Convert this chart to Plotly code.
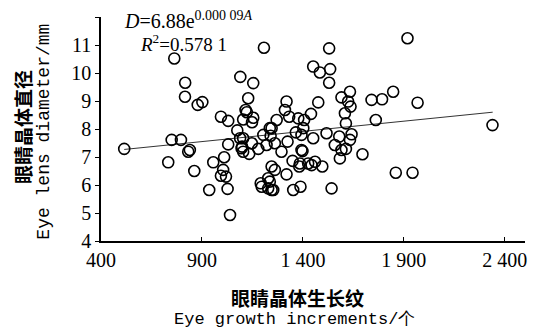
import plotly.graph_objects as go

# Eye growth increments (count) and eye lens diameter (mm)
increments = [
    515, 733, 750, 796, 763, 817, 816, 832, 840, 862, 879, 902, 936, 956,
    994, 1030, 1010, 1005, 994, 1019, 1027, 1039, 1030, 1075, 1090, 1154,
    1129, 1116, 1122, 1104, 1154, 1148, 1104, 1099, 1104, 1134, 1147, 1207,
    1245, 1365, 1393, 1402, 1451, 1517, 1580, 1641, 1633, 1558, 1591, 1613,
    1583, 1695, 1089, 1096, 1179, 1204, 1240, 1220, 1261, 1294, 1324, 1393,
    1398, 1349, 1382, 1426, 1443, 1460, 1496, 1319, 1245, 1261, 1228, 1191,
    1196, 1236, 1245, 1228, 1352, 1388, 1542, 1530, 1451, 1484, 1535, 1530,
    1319, 1476, 1311, 1270, 1332, 1377, 1406, 1440, 1591, 1633, 1624, 1636,
    1608, 1613, 1740, 1792, 1761, 1918, 1847, 1968, 2339, 1860, 1943, 1385,
    1253, 1236,
]
diameter = [
    7.29, 6.81, 7.61, 7.61, 10.52, 9.65, 9.15, 7.19, 7.25, 6.50, 8.86, 8.96, 5.82, 6.81,
    8.44, 8.29, 6.99, 6.54, 6.33, 6.30, 5.86, 4.93, 7.45, 7.95, 9.86, 9.64,
    9.10, 8.68, 8.60, 8.34, 8.40, 8.24, 7.67, 7.37, 7.19, 7.11, 7.49, 10.90,
    8.03, 7.88, 7.79, 8.03, 7.67, 7.85, 7.73, 7.81, 7.61, 7.43, 7.25, 7.29,
    6.95, 7.10, 7.67, 7.31, 7.29, 7.79, 7.76, 7.43, 7.49, 7.19, 7.55, 7.25,
    7.21, 6.86, 6.66, 6.77, 6.71, 6.83, 6.66, 6.38, 6.66, 6.54, 6.24, 6.06,
    5.94, 6.12, 5.82, 5.88, 5.82, 5.94, 5.88, 10.88, 10.23, 10.02, 10.14, 9.65,
    8.98, 8.95, 8.68, 8.32, 8.44, 8.38, 8.32, 8.54, 9.13, 9.33, 8.98, 8.80,
    8.56, 8.20, 9.04, 9.06, 8.32, 11.24, 9.33, 8.94, 8.14, 6.44, 6.44, 6.77,
    5.82, 8.03,
]

# Fitted curve endpoints as drawn
trend_x = [515, 2340]
trend_y = [7.27, 8.60]

x_ticks = [400, 900, 1400, 1900, 2400]
x_tick_labels = ["400", "900", "1 400", "1 900", "2 400"]
y_ticks = [4, 5, 6, 7, 8, 9, 10, 11, 12]

fig = go.Figure()
fig.add_trace(go.Scatter(
    x=trend_x, y=trend_y, mode="lines",
    line=dict(color="#333333", width=1), hoverinfo="skip", showlegend=False))
fig.add_trace(go.Scatter(
    x=increments, y=diameter, mode="markers",
    marker=dict(symbol="circle-open", size=11, color="black",
                line=dict(color="black", width=1.6)),
    showlegend=False))

serif = "Liberation Serif, Times New Roman, serif"
mono = "Liberation Mono, Courier New, monospace"
cjk = "Noto Sans CJK SC, sans-serif"

# page body adds an 8px offset, so the figure is sized to fill the window exactly
fig.update_layout(
    width=532, height=325,
    margin=dict(l=93, r=15, t=9, b=92),
    paper_bgcolor="white", plot_bgcolor="white",
    xaxis=dict(range=[400, 2500], tickvals=x_ticks, ticktext=x_tick_labels,
               showgrid=False, zeroline=False, showline=True,
               linecolor="black", linewidth=1.5,
               ticks="inside", ticklen=4, tickcolor="black", tickwidth=1.2,
               tickfont=dict(family=serif, size=20, color="black")),
    yaxis=dict(range=[4, 12], tickvals=y_ticks,
               showgrid=False, zeroline=False, showline=True,
               linecolor="black", linewidth=1.5,
               ticks="outside", ticklen=4, tickcolor="black", tickwidth=1.2,
               tickfont=dict(family=serif, size=20, color="black")),
    annotations=[
        dict(text="<i>D</i>=6.88e<sup>0.000 09<i>A</i></sup>", xref="paper", yref="paper",
             x=0.0495, y=0.985, xanchor="left", yanchor="middle", showarrow=False,
             font=dict(family=serif, size=20, color="black")),
        dict(text="<i>R</i><sup>2</sup>=0.578 1", xref="paper", yref="paper",
             x=0.087, y=0.886, xanchor="left", yanchor="middle", showarrow=False,
             font=dict(family=serif, size=19, color="black")),
        dict(text="<b>眼睛晶体生长纹</b>", xref="paper", yref="paper",
             x=0.4646, y=-0.25, xanchor="center", yanchor="middle", showarrow=False,
             font=dict(family=cjk, size=19, color="black")),
        dict(text="Eye growth increments/个", xref="paper", yref="paper",
             x=0.4575, y=-0.35, xanchor="center", yanchor="middle", showarrow=False,
             font=dict(family=mono, size=17, color="black")),
        dict(text="<b>眼睛晶体直径</b>", xref="paper", yref="paper",
             x=-0.184, y=0.509, xanchor="center", yanchor="middle", showarrow=False,
             textangle=-90, font=dict(family=cjk, size=19, color="black")),
        dict(text="Eye lens diameter/mm", xref="paper", yref="paper",
             x=-0.135, y=0.487, xanchor="center", yanchor="middle", showarrow=False,
             textangle=-90, font=dict(family=mono, size=18, color="black")),
    ],
)

fig.write_html("out.html")
